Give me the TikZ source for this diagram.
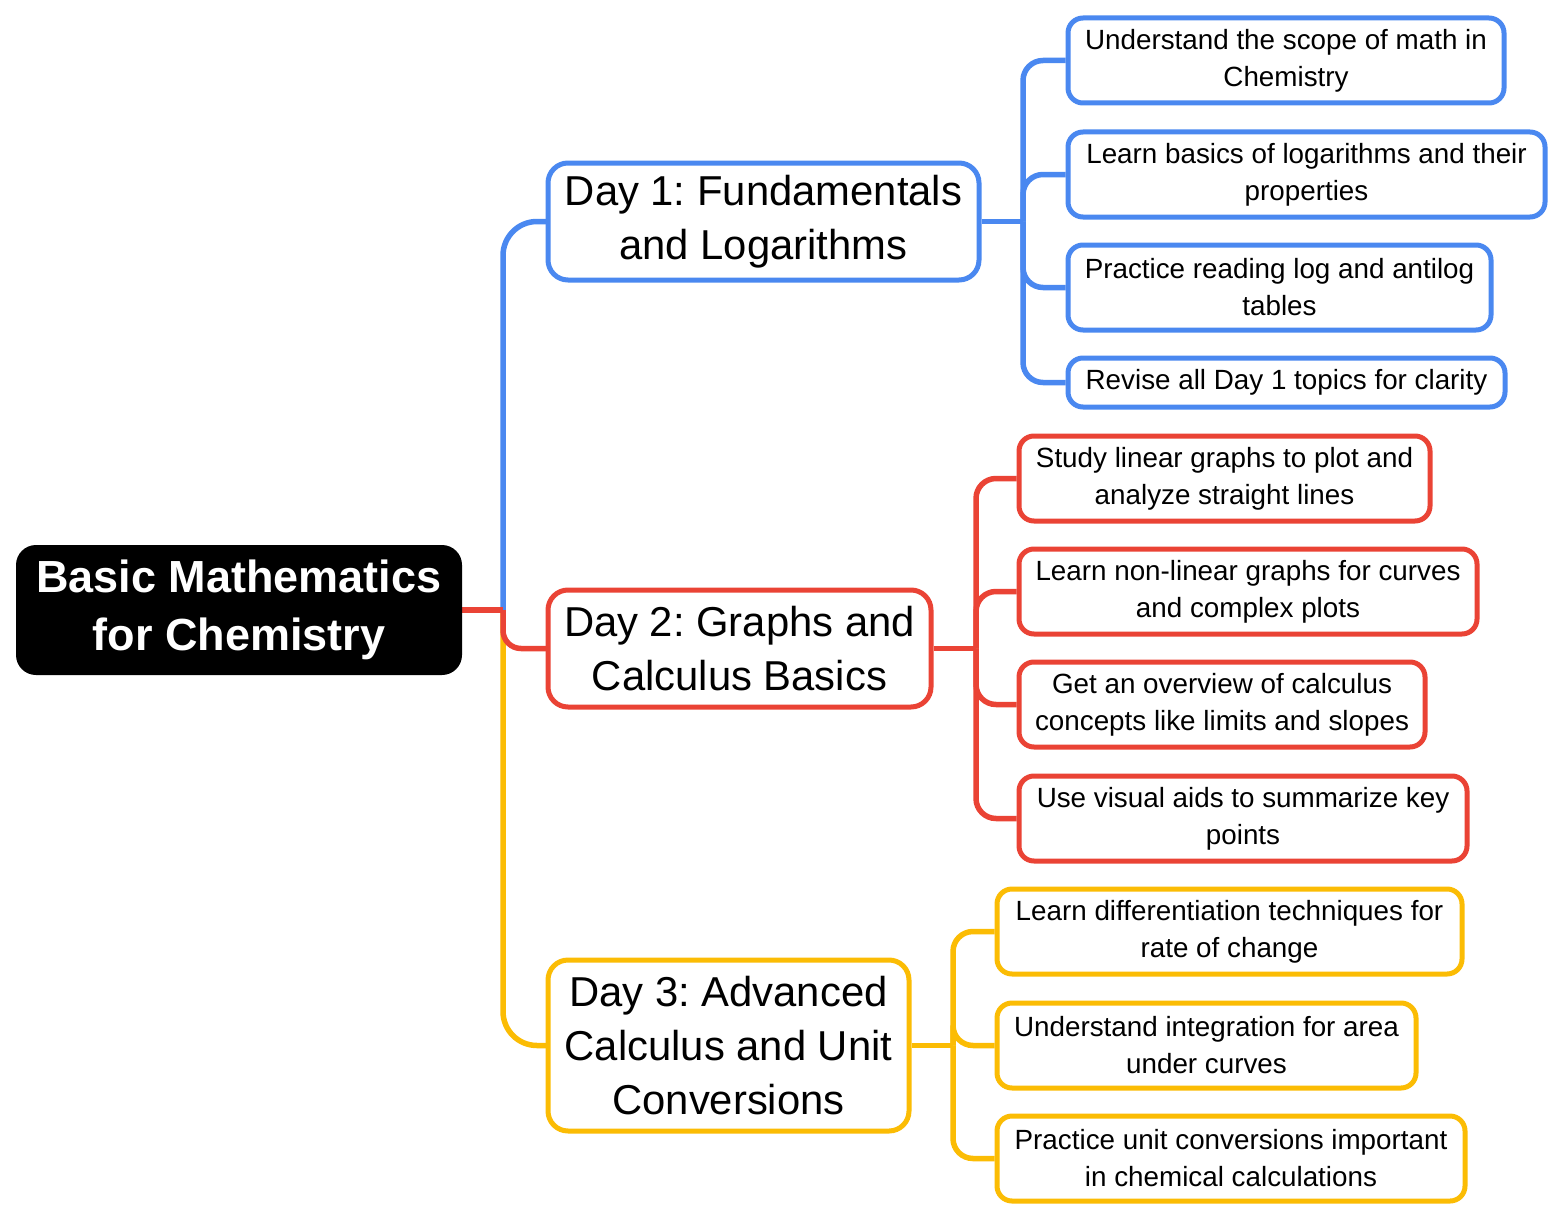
\documentclass[tikz,border=0pt]{standalone}
\usepackage{fontspec}
\setmainfont{Liberation Sans}
\frenchspacing
\definecolor{cblue}{HTML}{4A88F0}
\definecolor{cred}{HTML}{EA4335}
\definecolor{cyel}{HTML}{FBBC04}
\tikzset{
  rootbox/.style={fill=black, text=white, rounded corners=20pt, inner sep=0pt, align=center,
    font=\fontsize{45}{58}\selectfont\bfseries},
  daybox/.style={draw=#1, fill=white, line width=5pt, rounded corners=20pt, inner sep=0pt, align=center,
    font=\fontsize{41.8}{54}\selectfont},
  subbox/.style={draw=#1, fill=white, line width=5pt, rounded corners=15pt, inner sep=0pt, align=center,
    font=\fontsize{27.8}{37}\selectfont},
  link/.style 2 args={draw=#1, line width=5.5pt, rounded corners=#2},
}
\begin{document}
\begin{tikzpicture}[x=1pt,y=-1pt]
\useasboundingbox (0,0) rectangle (1563,1220);
% junction points
\coordinate (j0) at (503,610);
\coordinate (j1) at (1023,221.5);
\coordinate (j2) at (976,648.5);
\coordinate (j3) at (953,1045.5);
\coordinate (rte) at (462,610);
\coordinate (d1w) at (548,221.5);
\coordinate (d2w) at (548,648.5);
\coordinate (d3w) at (548,1045.5);

% first-level connectors
\path[link={cblue}{34pt}] (j0) |- (d1w);
\path[link={cyel}{34pt}] (j0) |- (d3w);
\path[link={cred}{0pt}] (rte) -- (j0);
\path[link={cred}{18pt}] (j0) |- (d2w);

\node[rootbox, minimum width=446pt, minimum height=130pt] (root) at (239,610) {Basic Mathematics\\for Chemistry};

\node[daybox=cblue, minimum width=431pt, minimum height=117pt] (d1) at (763.5,221.5) {Day 1: Fundamentals\\and Logarithms};
\node[daybox=cred, minimum width=383pt, minimum height=117pt] (d2) at (739.5,648.5) {Day 2: Graphs and\\Calculus Basics};
\node[daybox=cyel, minimum width=361pt, minimum height=171pt] (d3) at (728.5,1045.5) {Day 3: Advanced\\Calculus and Unit\\Conversions};

\node[subbox=cblue, minimum width=436pt, minimum height=85pt] (s1) at (1286,60.5) {Understand the scope of math in\\Chemistry};
\node[subbox=cblue, minimum width=477pt, minimum height=85pt] (s2) at (1306.5,174.5) {Learn basics of logarithms and their\\properties};
\node[subbox=cblue, minimum width=423pt, minimum height=85pt] (s3) at (1279.5,287.5) {Practice reading log and antilog\\tables};
\node[subbox=cblue, minimum width=437pt, minimum height=49pt] (s4) at (1286.5,382.5) {Revise all Day 1 topics for clarity};

\node[subbox=cred, minimum width=411pt, minimum height=85pt] (t1) at (1224.5,478.5) {Study linear graphs to plot and\\analyze straight lines};
\node[subbox=cred, minimum width=458pt, minimum height=85pt] (t2) at (1248,591.5) {Learn non-linear graphs for curves\\and complex plots};
\node[subbox=cred, minimum width=406pt, minimum height=85pt] (t3) at (1222,704.5) {Get an overview of calculus\\concepts like limits and slopes};
\node[subbox=cred, minimum width=448pt, minimum height=85pt] (t4) at (1243,818.5) {Use visual aids to summarize key\\points};

\node[subbox=cyel, minimum width=465pt, minimum height=85pt] (u1) at (1229.5,931.5) {Learn differentiation techniques for\\rate of change};
\node[subbox=cyel, minimum width=419pt, minimum height=85pt] (u2) at (1206.5,1045.5) {Understand integration for area\\under curves};
\node[subbox=cyel, minimum width=468pt, minimum height=85pt] (u3) at (1231,1158.5) {Practice unit conversions important\\in chemical calculations};

% second-level connectors
\path[link={cblue}{0pt}] (d1.east) -- (j1);
\foreach \n in {s1,s2,s3,s4} \path[link={cblue}{20pt}] (j1) |- (\n.west);
\path[link={cred}{0pt}] (d2.east) -- (j2);
\foreach \n in {t1,t2,t3,t4} \path[link={cred}{20pt}] (j2) |- (\n.west);
\path[link={cyel}{0pt}] (d3.east) -- (j3);
\foreach \n in {u1,u2,u3} \path[link={cyel}{20pt}] (j3) |- (\n.west);
\end{tikzpicture}
\end{document}
